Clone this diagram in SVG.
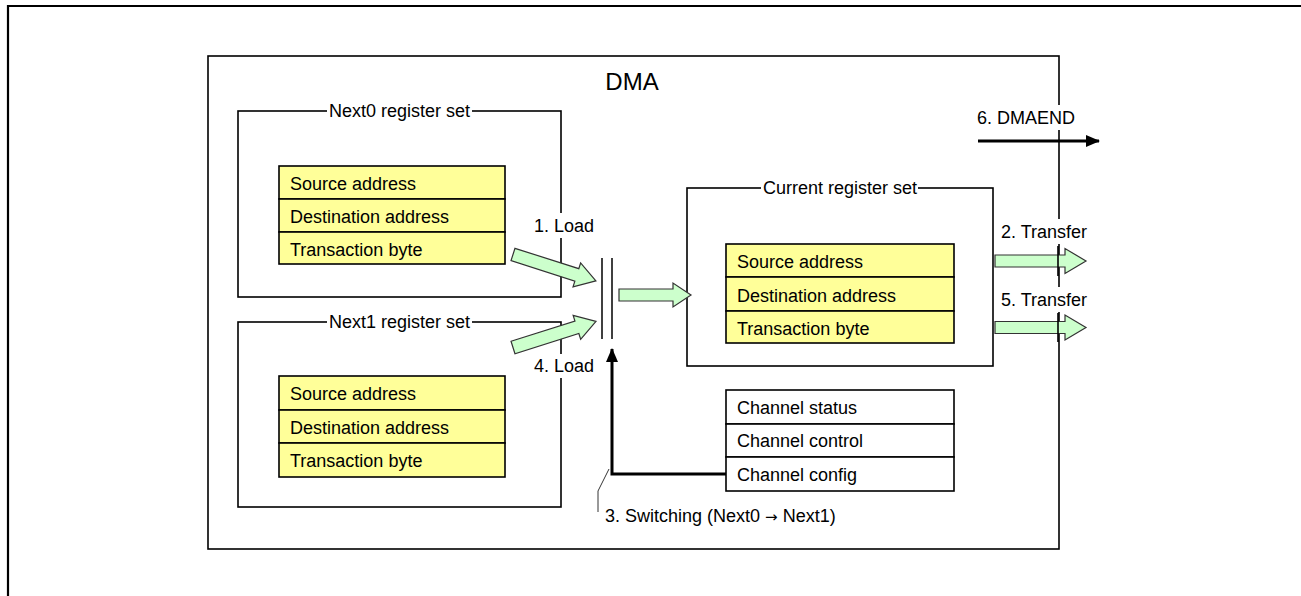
<svg xmlns="http://www.w3.org/2000/svg" width="1301" height="596" viewBox="0 0 1301 596">
<style>
text{font-family:"Liberation Sans",Arial,sans-serif;font-size:18px;fill:#000}
.box{fill:none;stroke:#000;stroke-width:1.6}
.tbl{fill:#ffff99;stroke:#000;stroke-width:1.6}
.wt{fill:#fff;stroke:#000;stroke-width:1.6}
.bg{fill:#fff;stroke:none}
.blk{fill:#ccffcc;stroke:#333;stroke-width:1.2}
.ln{stroke:#000;fill:none}
.sym{font-family:"DejaVu Sans",sans-serif;font-size:15px}
</style>
<defs>
<marker id="ah2" markerWidth="14" markerHeight="12" refX="13" refY="6" orient="auto" markerUnits="userSpaceOnUse">
<path d="M0,0 L14,6 L0,12 Z" fill="#000"/>
</marker>
</defs>
<g id="frame">
<path d="M8,596 V6 H1301" fill="none" stroke="#000" stroke-width="2.2"/>
</g>
<g id="dma">
<rect x="208" y="56" width="851" height="493" class="box"/>
<text x="632" y="90" text-anchor="middle" style="font-size:24px">DMA</text>
</g>
<g id="next0">
<rect x="238" y="111" width="323" height="186" class="box"/>
<rect x="327" y="102" width="145" height="20" class="bg"/>
<text x="399.5" y="117" text-anchor="middle">Next0 register set</text>
<rect x="279" y="166" width="226" height="33" class="tbl"/>
<rect x="279" y="199" width="226" height="33" class="tbl"/>
<rect x="279" y="232" width="226" height="32" class="tbl"/>
<text x="290" y="190">Source address</text>
<text x="290" y="223">Destination address</text>
<text x="290" y="256">Transaction byte</text>
</g>
<g id="next1">
<rect x="238" y="322" width="323" height="185" class="box"/>
<rect x="327" y="313" width="145" height="20" class="bg"/>
<text x="399.5" y="328" text-anchor="middle">Next1 register set</text>
<rect x="279" y="376" width="226" height="34" class="tbl"/>
<rect x="279" y="410" width="226" height="33" class="tbl"/>
<rect x="279" y="443" width="226" height="34" class="tbl"/>
<text x="290" y="400">Source address</text>
<text x="290" y="434">Destination address</text>
<text x="290" y="467">Transaction byte</text>
</g>
<g id="current">
<rect x="687" y="188" width="306" height="178" class="box"/>
<rect x="761" y="179" width="157" height="20" class="bg"/>
<text x="840" y="194" text-anchor="middle">Current register set</text>
<rect x="726" y="244" width="228" height="33" class="tbl"/>
<rect x="726" y="277" width="228" height="34" class="tbl"/>
<rect x="726" y="311" width="228" height="32" class="tbl"/>
<text x="737" y="268">Source address</text>
<text x="737" y="302">Destination address</text>
<text x="737" y="335">Transaction byte</text>
</g>
<g id="channel">
<rect x="726" y="390" width="228" height="34" class="wt"/>
<rect x="726" y="424" width="228" height="33" class="wt"/>
<rect x="726" y="457" width="228" height="34" class="wt"/>
<text x="737" y="414">Channel status</text>
<text x="737" y="447">Channel control</text>
<text x="737" y="481">Channel config</text>
</g>
<g id="switch">
<line x1="602" y1="258" x2="602" y2="339" class="ln" stroke-width="1.5"/>
<line x1="612" y1="258" x2="612" y2="339" class="ln" stroke-width="1.5"/>
</g>
<g id="connectors">
<path class="blk" transform="translate(513,254.5) rotate(17.7)" d="M0,-6.5 H67 V-12.5 L87,0 L67,12.5 V6.5 H0 Z"/>
<path class="blk" transform="translate(513,347.5) rotate(-17.5)" d="M0,-6.5 H67 V-12.5 L87,0 L67,12.5 V6.5 H0 Z"/>
<path class="blk" transform="translate(619,295)" d="M0,-6 H54 V-12 L72,0 L54,12 V6 H0 Z"/>
<path class="blk" transform="translate(995,261)" d="M0,-6 H70 V-12.5 L91,0 L70,12.5 V6 H0 Z"/>
<path class="blk" transform="translate(995,327.5)" d="M0,-6 H70 V-12.5 L91,0 L70,12.5 V6 H0 Z"/>
<line x1="1058" y1="246" x2="1058" y2="276" class="ln" stroke-width="1.6"/>
<line x1="1058" y1="313" x2="1058" y2="342" class="ln" stroke-width="1.6"/>
<path d="M726,474 H612 V349" class="ln" stroke-width="3" marker-end="url(#ah2)"/>
<line x1="978" y1="141" x2="1099" y2="141" class="ln" stroke-width="3" marker-end="url(#ah2)"/>
<path d="M609,469 L598,491 V512" class="ln" stroke-width="0.8" stroke="#444"/>
</g>
<g id="labels">
<rect x="533" y="213" width="62" height="25" class="bg"/>
<text x="534" y="232">1. Load</text>
<rect x="533" y="354" width="62" height="24" class="bg"/>
<text x="534" y="372">4. Load</text>
<rect x="975" y="105" width="100" height="25" class="bg"/>
<text x="977" y="124">6. DMAEND</text>
<rect x="999" y="219" width="94" height="25" class="bg"/>
<text x="1001" y="238">2. Transfer</text>
<rect x="999" y="287" width="94" height="25" class="bg"/>
<text x="1001" y="306">5. Transfer</text>
<text x="605" y="522">3. Switching (Next0 <tspan class="sym">→</tspan> Next1)</text>
</g>
</svg>
